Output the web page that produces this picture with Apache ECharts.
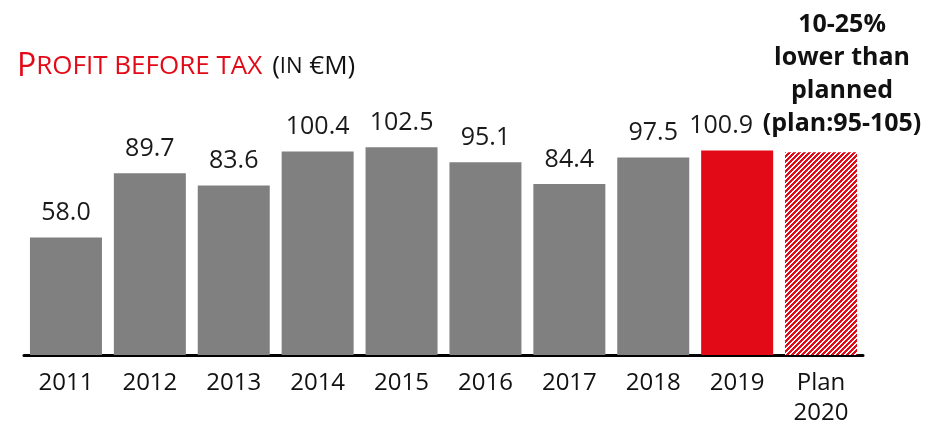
<!DOCTYPE html>
<html>
<head>
<meta charset="utf-8">
<script src="https://cdn.jsdelivr.net/npm/echarts@6/dist/echarts.min.js"></script>
<style>
  html, body { margin: 0; padding: 0; background: #fff; }
  #chart { width: 929px; height: 424px; }
</style>
</head>
<body>
<div id="chart"></div>
<script>
// data
var categories = ['2011', '2012', '2013', '2014', '2015', '2016', '2017', '2018', '2019', 'Plan\n2020'];
var profit = [58.0, 89.7, 83.6, 100.4, 102.5, 95.1, 84.4, 97.5, 100.9, 100];
var planNote = ['10-25%', 'lower than', 'planned', '(plan:95-105)'];

var GREY = '#808080';
var RED = '#e30a17';
var FONT = 'Open Sans';

// red / white diagonal hatch for the plan bar
function hatch() {
    var n = 5;
    var c = document.createElement('canvas');
    c.width = n; c.height = n;
    var ctx = c.getContext('2d');
    ctx.fillStyle = '#fff';
    ctx.fillRect(0, 0, n, n);
    ctx.fillStyle = RED;
    for (var x = 0; x < n; x++) {
        for (var y = 0; y < n; y++) {
            if ((x + y) % n < 3) ctx.fillRect(x, y, 1, 1);
        }
    }
    return c;
}

var chart = echarts.init(document.getElementById('chart'));

var barData = profit.map(function (v, i) {
    var item = { value: v };
    if (i === profit.length - 2) {
        item.itemStyle = { color: RED };
        item.label = { offset: [-16, 0] };
    }
    if (i === profit.length - 1) {
        item.itemStyle = { color: { image: hatch(), repeat: 'repeat' } };
        item.label = {
            formatter: planNote.join('\n'),
            fontWeight: 'bold',
            fontSize: 25,
            lineHeight: 33,
            color: '#111',
            distance: 12,
            offset: [21, 0]
        };
    }
    return item;
});

var option = {
    animation: false,
    title: {
        left: 12,
        top: 46,
        text: '{a|P}{b|ROFIT BEFORE TAX}  {c|(}{d|IN}{c| €M)}',
        textStyle: {
            fontWeight: 'normal',
            rich: {
                a: { fontFamily: FONT, fontSize: 32, fontWeight: 'normal', color: RED },
                b: { fontFamily: FONT, fontSize: 26, fontWeight: 'normal', color: RED },
                c: { fontFamily: FONT, fontSize: 26, fontWeight: 'normal', color: '#111' },
                d: { fontFamily: FONT, fontSize: 22, fontWeight: 'normal', color: '#111' }
            }
        }
    },
    grid: { left: 24, right: 66, top: 51, bottom: 69, outerBoundsMode: 'none' },
    xAxis: {
        type: 'category',
        data: categories,
        axisLine: { lineStyle: { color: '#000', width: 3 } },
        axisTick: { show: false },
        axisLabel: {
            fontFamily: FONT,
            fontSize: 24,
            color: '#111',
            margin: 13,
            lineHeight: 30,
            interval: 0
        }
    },
    yAxis: {
        type: 'value',
        min: 0,
        max: 150,
        show: false,
        splitLine: { show: false }
    },
    series: [{
        type: 'bar',
        data: barData,
        barWidth: 72,
        itemStyle: { color: GREY },
        label: {
            show: true,
            position: 'top',
            distance: 12,
            fontFamily: FONT,
            fontSize: 25,
            color: '#1a1a1a',
            formatter: function (p) { return p.value.toFixed(1); }
        }
    }]
};

chart.setOption(option);
</script>
</body>
</html>
